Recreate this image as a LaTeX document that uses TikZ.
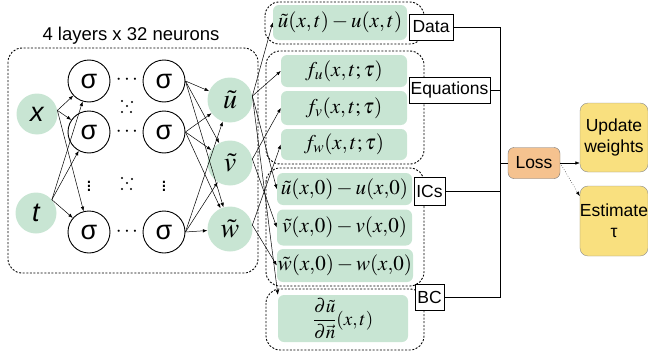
\documentclass[tikz,border=0pt]{standalone}
\usepackage{mathptmx}
\usepackage[no-math]{fontspec}
\setmainfont{Liberation Sans}
\usetikzlibrary{arrows.meta}
\definecolor{pinngreen}{RGB}{200,229,211}
\definecolor{lossorange}{RGB}{245,194,143}
\definecolor{outyellow}{RGB}{249,224,127}

\begin{document}
\begin{tikzpicture}[x=1pt, y=-1pt,
  every node/.style={font=\fontsize{17.5}{21}\selectfont},
  inp/.style={circle, fill=pinngreen, minimum size=41pt, inner sep=0pt,
              font=\fontsize{27}{29}\selectfont\itshape},
  neuron/.style={circle, draw, line width=0.9pt, minimum size=42pt, inner sep=0pt,
                 font=\fontsize{27}{29}\selectfont},
  outp/.style={circle, fill=pinngreen, minimum size=45pt, inner sep=0pt,
               font=\fontsize{28}{30}\selectfont},
  term/.style={rounded corners=6pt, fill=pinngreen, inner sep=0pt,
               font=\fontsize{21}{24}\selectfont},
  tag/.style={draw, line width=0.8pt, fill=white, inner sep=0pt, minimum height=26pt},
  group/.style={draw, dash pattern=on 2pt off 1.6pt, line width=0.9pt, rounded corners=14pt},
  quincunx/.style={minimum size=14pt, inner sep=0pt, path picture={
      \foreach \dx/\dy in {-5/-5,5/-4,0/0,-5/6,4/6}
        \fill ([shift={(\dx,\dy)}]path picture bounding box.center) circle (1.1pt);}},
  arrow/.style={-{Latex[length=4.5pt, width=3.5pt]}, line width=0.5pt},
  bus/.style={line width=0.9pt}
]
\useasboundingbox (0,0) rectangle (648,356);

% network
\draw[group] (8,48) rectangle (258,273);
\node[font=\fontsize{18.5}{21}\selectfont] (title) at (131,36) {4 layers x 32 neurons};

\node[inp] (x) at (37,114) {x};
\node[inp] (t) at (36,213) {t};

\node[neuron] (s11) at (89,81) {σ};
\node[neuron] (s12) at (89,132) {σ};
\node[neuron] (s13) at (89,232) {σ};
\node[neuron] (s21) at (164,81) {σ};
\node[neuron] (s22) at (164,132) {σ};
\node[neuron] (s23) at (164,232) {σ};

\node[font=\fontsize{21}{24}\selectfont] (c1) at (127,80) {$\cdots$};
\node[font=\fontsize{21}{24}\selectfont] (c2) at (127,132) {$\cdots$};
\node[font=\fontsize{21}{24}\selectfont] (c3) at (127,232) {$\cdots$};
\node[quincunx] (q1) at (127,106) {};
\node[quincunx] (q2) at (127,183) {};
\node[font=\fontsize{21}{24}\selectfont] (v1) at (89,183) {$\vdots$};
\node[font=\fontsize{21}{24}\selectfont] (v2) at (164,183) {$\vdots$};

\node[outp] (u) at (230,100) {$\tilde{u}$};
\node[outp] (v) at (230,163) {$\tilde{v}$};
\node[outp] (w) at (230,229) {$\tilde{w}$};

\draw[arrow] (x.10) -- (s11);
\draw[arrow] (x.10) -- (s12);
\draw[arrow] (x.10) -- (s13);
\draw[arrow] (t.40) -- (s11);
\draw[arrow] (t.40) -- (s12);
\draw[arrow] (t.40) -- (s13);

\draw[arrow] (s21.east) -- (u);
\draw[arrow] (s21.east) -- (v);
\draw[arrow] (s21.east) -- (w);
\draw[arrow] (s22.east) -- (u);
\draw[arrow] (s22.east) -- (v);
\draw[arrow] (s22.east) -- (w);
\draw[arrow] (s23.east) -- (u);
\draw[arrow] (s23.east) -- (v);
\draw[arrow] (s23.east) -- (w);

% loss terms
\draw[group] (265,2) rectangle (424,44);
\draw[group] (266,51) rectangle (424,164);
\draw[group] (266,168) rectangle (424,286);
\draw[group] (266,289) rectangle (424,350);

\node[term, minimum width=134pt, minimum height=35pt] (datab) at (340,22.5) {$\tilde{u}(x,t)-u(x,t)$};
\node[term, minimum width=126pt, minimum height=32pt] (fu) at (344,71) {$f_u(x,t;\tau)$};
\node[term, minimum width=126pt, minimum height=34pt] (fv) at (344,108) {$f_v(x,t;\tau)$};
\node[term, minimum width=126pt, minimum height=31pt] (fw) at (344,144.5) {$f_w(x,t;\tau)$};
\node[term, minimum width=135pt, minimum height=32pt] (icu) at (344.5,189) {$\tilde{u}(x{,}0)-u(x{,}0)$};
\node[term, minimum width=135pt, minimum height=36pt] (icv) at (344.5,227.5) {$\tilde{v}(x{,}0)-v(x{,}0)$};
\node[term, minimum width=136pt, minimum height=33pt] (icw) at (345,265.5) {$\tilde{w}(x{,}0)-w(x{,}0)$};
\node[term, minimum width=130pt, minimum height=47pt, font=\fontsize{19}{22}\selectfont] (bcb) at (343,318.5)
  {$\displaystyle\frac{\partial\tilde{u}}{\partial\vec{n}}(x,t)$};

\draw[arrow] (u.10) -- (datab.west);
\draw[arrow] (u.10) -- (fu.west);
\draw[arrow] (u.10) -- (icu.west);
\draw[arrow] (u.10) -- (bcb.160);
\draw[arrow] (v.10) -- (fv.west);
\draw[arrow] (v.10) -- (icv.west);
\draw[arrow] (w.10) -- (fw.west);
\draw[arrow] (w.10) -- (icw.west);

\node[tag, minimum width=44pt] (data) at (431,27) {Data};
\node[tag, minimum width=81pt] (eqs) at (449.5,90) {Equations};
\node[tag, minimum width=31pt, minimum height=28pt] (ics) at (429.5,191) {ICs};
\node[tag, minimum width=29pt] (bc) at (429.5,297) {BC};

% loss and outputs
\coordinate (bustop) at (500,27);
\coordinate (busbot) at (500,297);
\draw[bus] (data.east) -- (bustop) -- (busbot) -- (bc.east);
\draw[bus] (eqs.east) -- (eqs.east -| bustop);
\draw[bus] (ics.east) -- (ics.east -| bustop);

\node[draw=black!55, fill=lossorange, rounded corners=6pt, minimum width=52pt, minimum height=31pt,
      inner sep=0pt] (loss) at (534,163) {Loss};
\draw[bus] (loss.west) -- (loss.west -| bustop);

\node[draw=black!45, fill=outyellow, rounded corners=8pt, minimum width=68pt, minimum height=69pt,
      inner sep=0pt, align=center] (upd) at (614,137.5) {Update\\weights};
\node[draw=black!45, fill=outyellow, rounded corners=8pt, minimum width=68pt, minimum height=70pt,
      inner sep=0pt, align=center] (est) at (614,221) {Estimate\\τ};

\draw[arrow] (loss.east) -- (loss.east -| upd.west);
\draw[arrow, dotted] (loss.east) -- (est.144);
\end{tikzpicture}
\end{document}
